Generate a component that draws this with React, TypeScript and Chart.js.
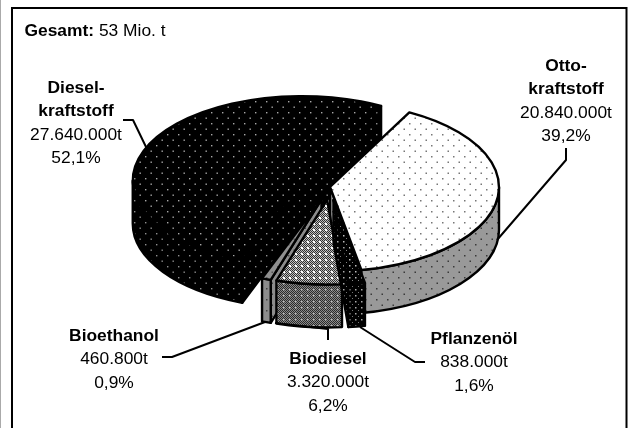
import React, { useEffect, useRef } from "react";
import { Chart, registerables } from "chart.js";

Chart.register(...registerables);

// ---- data ----
const categories = ["Otto-kraftstoff", "Pflanzenöl", "Biodiesel", "Bioethanol", "Diesel-kraftstoff"];
const tonnes = [20840000, 838000, 3320000, 460800, 27640000];
const nameLines = [["Otto-", "kraftstoff"], ["Pflanzenöl"], ["Biodiesel"], ["Bioethanol"], ["Diesel-", "kraftstoff"]];
const amountLabels = ["20.840.000t", "838.000t", "3.320.000t", "460.800t", "27.640.000t"];
const shareLabels = ["39,2%", "1,6%", "6,2%", "0,9%", "52,1%"];

// ---- layout ----
const W = 629, H = 428;
const CX = 330, CY = 187, R = 169, SQUASH = 0.5, DEPTH = 43, ROTATION = 28;
const explode = [0, 26, 26, 26, 31];
const drawOrder = [4, 0, 3, 2, 1];
const FONT = '"Liberation Sans", Arial, sans-serif';
const FONT_SIZE = 17.4;
const labelCenters = [[566, 66], [474, 339], [328, 359], [114, 336], [76, 88]];
const LINE_H = 23.4;
const leaders = [
  [[566, 148], [566, 160], [497, 240]],
  [[425, 362], [415, 362], [360, 327]],
  [[328, 340], [328, 329], [275, 323]],
  [[162, 357], [172, 357], [265, 322]],
  [[123, 120], [133, 120], [147, 149]],
];

type Dot = [number, number, string, number];
function tile(bg: string, size: number, dots: Dot[], extra?: (c: CanvasRenderingContext2D) => void) {
  const c = document.createElement("canvas");
  c.width = size; c.height = size;
  const g = c.getContext("2d")!;
  g.fillStyle = bg; g.fillRect(0, 0, size, size);
  if (extra) extra(g);
  for (const [x, y, col, s] of dots) { g.fillStyle = col; g.fillRect(x, y, s, s); }
  return g.createPattern(c, "repeat")!;
}
const stagger = (col: string, s = 2): Dot[] => [[2, 2, col, s], [7.5, 7.5, col, s]];
const checker = (col: string) => (g: CanvasRenderingContext2D) => {
  g.fillStyle = col;
  for (let y = 0; y < 12; y += 1) for (let x = y % 2; x < 12; x += 2) g.fillRect(x, y, 1, 1);
};

export default function App() {
  const ref = useRef<HTMLCanvasElement>(null);
  useEffect(() => {
    const canvas = ref.current!;
    const tops = [
      tile("#ffffff", 11, stagger("#777777", 1.5)),
      tile("#000000", 6, [[1, 1, "#bbbbbb", 1.5], [4, 4, "#888888", 1]]),
      tile("#c0c0c0", 6, [[1, 1, "#ffffff", 2]], checker("#303030")),
      tile("#8f8f8f", 11, stagger("#555555", 1.5)),
      tile("#000000", 11, stagger("#a8a8a8", 1.4)),
    ];
    const sides = [
      tile("#999999", 11, stagger("#3a3a3a", 1.5)),
      tile("#000000", 6, [[1, 1, "#aaaaaa", 1.5], [4, 4, "#777777", 1]]),
      tile("#8a8a8a", 6, [[1, 1, "#b8b8b8", 1.5]], checker("#2a2a2a")),
      tile("#8c8c8c", 11, stagger("#444444", 1.5)),
      tile("#000000", 11, stagger("#8f8f8f", 1.4)),
    ];

    const pie3d = {
      id: "pie3d",
      beforeDraw(chart: any) {
        const c = chart.ctx as CanvasRenderingContext2D;
        c.save();
        c.fillStyle = "#ffffff"; c.fillRect(0, 0, W, H);
        c.fillStyle = "#aaaaaa"; c.fillRect(0, 0, 1, H);
        c.strokeStyle = "#000"; c.lineWidth = 2;
        c.beginPath(); c.moveTo(12, H + 2); c.lineTo(12, 8); c.lineTo(626.5, 8); c.lineTo(626.5, H + 2); c.stroke();
        c.restore();
      },
      beforeDatasetsDraw(chart: any) {
        const c = chart.ctx as CanvasRenderingContext2D;
        const arcs = chart.getDatasetMeta(0).data;
        c.save();
        c.lineJoin = "round"; c.lineCap = "round";
        for (const i of drawOrder) {
          const el = arcs[i];
          const a0 = el.startAngle, a1 = el.endAngle, mid = (a0 + a1) / 2;
          const px = CX + explode[i] * Math.cos(mid);
          const py = CY + explode[i] * Math.sin(mid) * SQUASH;
          const ry = R * SQUASH;
          const pt = (a: number, d = 0): [number, number] => [px + R * Math.cos(a), py + ry * Math.sin(a) + d];

          c.lineWidth = 2.4; c.strokeStyle = "#000"; c.fillStyle = sides[i];
          // radial walls that face the viewer
          const wall = (a: number) => {
            const p = pt(a);
            c.beginPath(); c.moveTo(px, py); c.lineTo(p[0], p[1]); c.lineTo(p[0], p[1] + DEPTH); c.lineTo(px, py + DEPTH); c.closePath();
            c.fill(); c.stroke();
          };
          if (-Math.cos(a0) > 0) wall(a0);
          if (Math.cos(a1) > 0) wall(a1);
          // rim
          const lo = Math.max(a0, 0), hi = Math.min(a1, Math.PI);
          if (hi > lo) {
            c.beginPath();
            c.ellipse(px, py, R, ry, 0, lo, hi);
            c.ellipse(px, py + DEPTH, R, ry, 0, hi, lo, true);
            c.closePath(); c.fill(); c.stroke();
          }
          // top face, through the library's arc element
          c.save();
          c.translate(px, py); c.scale(1, SQUASH); c.translate(-el.x, -el.y);
          tops[i].setTransform(c.getTransform().inverse());
          el.draw(c);
          c.restore();
          c.beginPath(); c.moveTo(px, py); c.ellipse(px, py, R, ry, 0, a0, a1); c.closePath(); c.stroke();
        }
        c.restore();
        return false;
      },
      afterDraw(chart: any) {
        const c = chart.ctx as CanvasRenderingContext2D;
        c.save();
        c.strokeStyle = "#000"; c.lineWidth = 2; c.lineJoin = "round";
        for (const l of leaders) {
          c.beginPath(); l.forEach((p, k) => (k ? c.lineTo(p[0], p[1]) : c.moveTo(p[0], p[1]))); c.stroke();
        }
        c.fillStyle = "#000"; c.textBaseline = "middle"; c.textAlign = "center";
        categories.forEach((_, i) => {
          const [x, y0] = labelCenters[i];
          let y = y0;
          c.font = `bold ${FONT_SIZE}px ${FONT}`;
          for (const n of nameLines[i]) { c.fillText(n, x, y); y += LINE_H; }
          c.font = `${FONT_SIZE}px ${FONT}`;
          c.fillText(amountLabels[i], x, y); y += LINE_H;
          c.fillText(shareLabels[i], x, y);
        });
        c.textAlign = "left";
        c.font = `bold ${FONT_SIZE}px ${FONT}`;
        const head = "Gesamt: ";
        c.fillText(head, 24.5, 31);
        const w = c.measureText(head).width;
        c.font = `${FONT_SIZE}px ${FONT}`;
        c.fillText("53 Mio. t", 24.5 + w, 31);
        c.restore();
      },
    };

    const chart = new Chart(canvas, {
      type: "pie",
      data: {
        labels: categories,
        datasets: [{ data: tonnes, backgroundColor: tops as any, borderWidth: 0 }],
      },
      options: {
        responsive: false,
        animation: false,
        rotation: ROTATION,
        radius: R,
        events: [],
        layout: { padding: 0 },
        plugins: { legend: { display: false }, tooltip: { enabled: false }, title: { display: false } },
      },
      plugins: [pie3d as any],
    });
    return () => chart.destroy();
  }, []);
  return <canvas ref={ref} width={W} height={H} style={{ position: "absolute", left: 0, top: 0, display: "block" }} />;
}
